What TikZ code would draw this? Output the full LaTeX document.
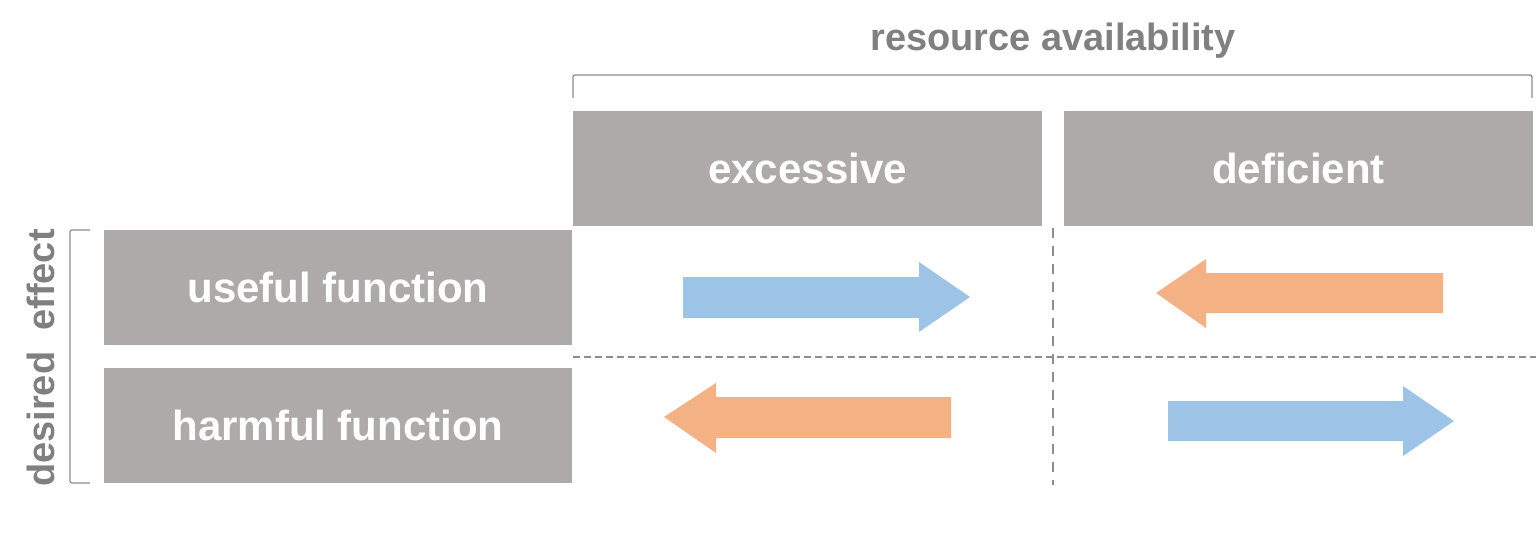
\documentclass[tikz,border=0pt]{standalone}
\usepackage{fontspec}
\setmainfont{Liberation Sans}
\definecolor{boxgray}{HTML}{AEAAAA}
\definecolor{txtgray}{HTML}{808080}
\definecolor{linegray}{HTML}{8C8C8C}
\definecolor{arrblue}{HTML}{9DC3E6}
\definecolor{arrorange}{HTML}{F4B183}
\begin{document}
\begin{tikzpicture}[x=1pt,y=-1pt,
  cell/.style={fill=boxgray, draw=none},
  celltext/.style={text=white, font=\fontsize{42}{46}\selectfont\bfseries, inner sep=0pt},
  axistext/.style={text=txtgray, font=\fontsize{38}{42}\selectfont\bfseries, inner sep=0pt},
  bracketline/.style={draw=linegray, line width=1.3pt, rounded corners=2pt},
  gridline/.style={draw=linegray, line width=1.3pt},
  bluearrow/.style={fill=arrblue, draw=none},
  orangearrow/.style={fill=arrorange, draw=none}]
\useasboundingbox (0,0) rectangle (1536,540);
% header boxes
\fill[cell] (573,111) rectangle (1042,226);
\node[celltext] (exc) at (807.5,168.5) {excessive};
\fill[cell] (1064,111) rectangle (1533,226);
\node[celltext] (def) at (1298.5,168.5) {deficient};
% row boxes
\fill[cell] (104,230) rectangle (572,345);
\node[celltext] (use) at (338,287.5) {useful function};
\fill[cell] (104,368) rectangle (572,483);
\node[celltext] (harm) at (338,425.5) {harmful function};
% axis labels
\node[axistext] (res) at (1053,41) {resource availability};
\node[axistext, rotate=90, font=\fontsize{38}{42}\selectfont\bfseries] (des) at (41,358) {desired\ \ effect};
% brackets
\draw[bracketline] (573,98) -- (573,75) -- (1532,75) -- (1532,98);
\draw[bracketline] (90,230) -- (70,230) -- (70,483) -- (90,483);
% dashed grid lines
\draw[gridline, dash pattern=on 7pt off 4pt] (573,357) -- (1536,357);
\draw[gridline, dash pattern=on 10pt off 8pt] (1053,228) -- (1053,485);
% arrows
\fill[bluearrow] (683,277) -- (919,277) -- (919,262) -- (970,297) -- (919,332) -- (919,318) -- (683,318) -- cycle;
\fill[orangearrow] (1443,273) -- (1206,273) -- (1206,259) -- (1156,293) -- (1206,328) -- (1206,313) -- (1443,313) -- cycle;
\fill[orangearrow] (951,397) -- (716,397) -- (716,383) -- (664,417) -- (716,453) -- (716,438) -- (951,438) -- cycle;
\fill[bluearrow] (1168,401) -- (1403,401) -- (1403,386) -- (1454,421) -- (1403,456) -- (1403,441) -- (1168,441) -- cycle;
\end{tikzpicture}
\end{document}
